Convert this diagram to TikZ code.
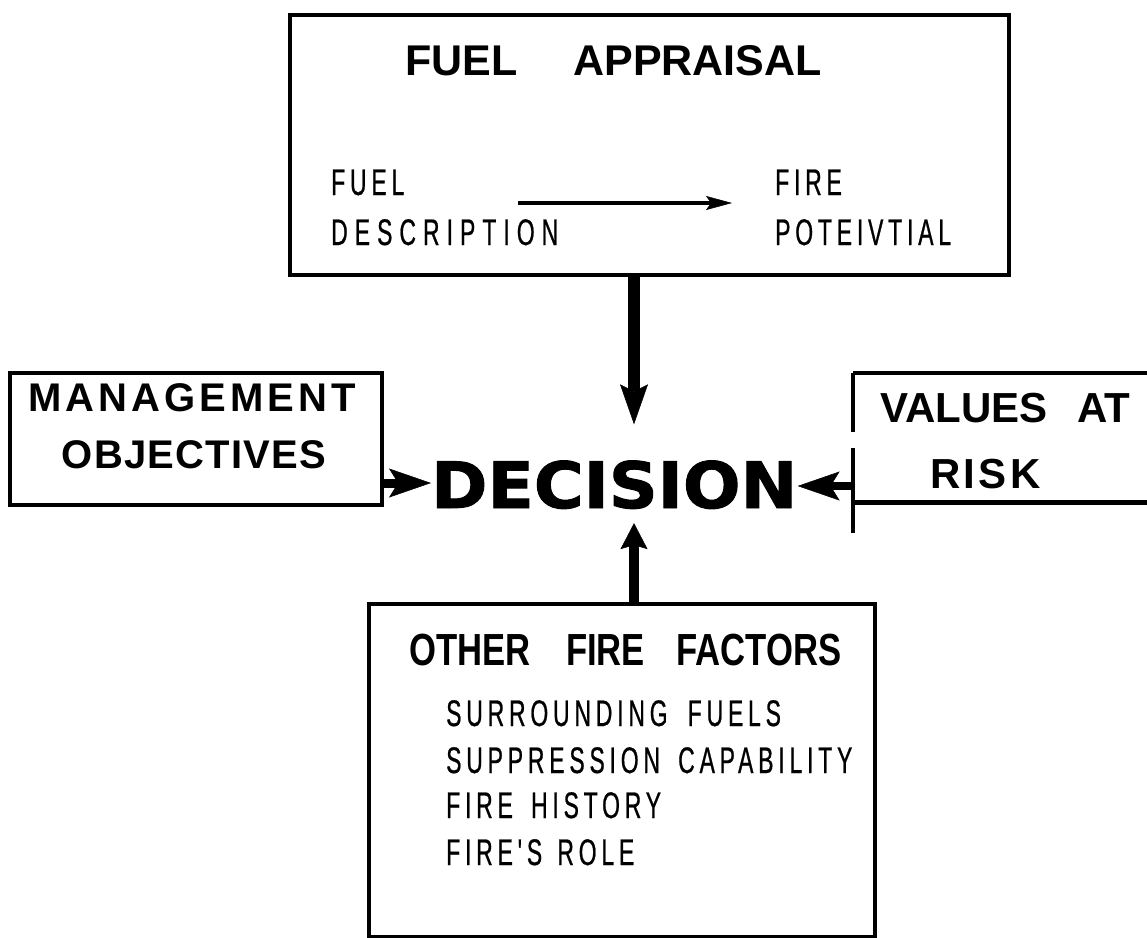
\documentclass[tikz,border=0pt]{standalone}
\usepackage{fontspec}
\usetikzlibrary{arrows.meta}
% heading face, spaced narrow face for item lists, heavy face for the centre word
\newfontfamily\headsans{Liberation Sans}
\newfontfamily\plainsans{Liberation Sans}[FakeStretch=0.62, LetterSpace=13, FakeBold=0.6]
\newfontfamily\bigsans{DejaVu Sans}[FakeStretch=1.06, FakeBold=1.5]

\begin{document}
\begin{tikzpicture}[x=1pt, y=-1pt,
  box/.style={draw, line width=4pt, inner sep=0pt, anchor=north west},
  hdr/.style={inner sep=0pt, anchor=base west,
    font=\headsans\bfseries\fontsize{43}{50}\selectfont},
  item/.style={inner sep=0pt, anchor=base west,
    font=\plainsans\fontsize{37}{42}\selectfont},
  bigarrow/.style={line width=12pt,
    -{Stealth[length=40pt, width=28pt, inset=7pt, line width=0.5pt]}},
  sidearrow/.style={line width=9pt,
    -{Stealth[length=42pt, width=29pt, inset=9pt, line width=0.5pt]}},
  smallarrow/.style={line width=4pt,
    -{Stealth[length=26pt, width=14pt, inset=5pt, line width=0.5pt]}}
]
\useasboundingbox (0,0) rectangle (1147,937);
\clip (0,0) rectangle (1147,937);

% ---- boxes ----
\node[box, minimum width=719pt, minimum height=260pt] (appraisal) at (288,13) {};
\node[box, minimum width=372pt, minimum height=132pt] (mgmt) at (8,371) {};
\node[box, minimum width=506pt, minimum height=333pt] (others) at (367,602) {};
\node[inner sep=0pt, anchor=north west, minimum width=310pt, minimum height=129pt]
  (values) at (853,373) {};
\draw[line width=4pt] (values.north west) -- (values.north east);
\draw[line width=5pt] (values.south west) -- (values.south east);
\draw[line width=4pt] (values.north west) -- ++(0,59);
\draw[line width=4pt] (values.west) ++(0,10) -- ++(0,85);

% ---- fuel appraisal ----
\node[hdr] (apptitle) at (405,75) {FUEL\hspace{56pt}APPRAISAL};
\node[item] (fuel1) at (331,195) {FUEL};
\node[item, font=\plainsans\fontsize{37}{42}\selectfont\addfontfeatures{LetterSpace=19}]
  (fuel2) at (331,245) {DESCRIPTION};
\node[item] (fire1) at (775,195) {FIRE};
\node[item] (fire2) at (775,245) {POTEIVTIAL};
\coordinate (ia) at (518,203);
\coordinate (ib) at (732,203);
\draw[smallarrow] (ia) -- (ib);

% ---- management objectives ----
\node[inner sep=0pt, anchor=base,
  font=\headsans\bfseries\fontsize{40}{46}\selectfont\addfontfeatures{LetterSpace=10}]
  (mg1) at (192,411) {MANAGEMENT};
\node[inner sep=0pt, anchor=base,
  font=\headsans\bfseries\fontsize{40}{46}\selectfont\addfontfeatures{LetterSpace=3}]
  (mg2) at (194,468) {OBJECTIVES};

% ---- values at risk ----
\node[hdr, font=\headsans\bfseries\fontsize{42}{50}\selectfont]
  (va1) at (880,422) {VALUES\hspace{18pt} AT};
\node[hdr, font=\headsans\bfseries\fontsize{42}{50}\selectfont\addfontfeatures{LetterSpace=8}]
  (va2) at (930,488) {RISK};

% ---- decision ----
\node[inner sep=0pt, anchor=base west, font=\bigsans\bfseries\fontsize{64}{70}\selectfont]
  (decision) at (431,508) {DECISION};

% ---- other fire factors ----
\node[hdr, font=\headsans\bfseries\fontsize{45}{52}\selectfont\addfontfeatures{FakeStretch=0.77}]
  (otitle) at (409,665) {OTHER\hspace{26pt} FIRE\hspace{22pt} FACTORS};
\node[item] (o1) at (446,726) {SURROUNDING\hspace{9pt} FUELS};
\node[item] (o2) at (446,773) {SUPPRESSION\hspace{7pt} CAPABILITY};
\node[item] (o3) at (446,818) {FIRE\hspace{7pt} HISTORY};
\node[item] (o4) at (446,865) {FIRE'S\hspace{4pt} ROLE};

% ---- connectors into the decision ----
\coordinate (vaxis) at (634,0);
\coordinate (haxisL) at (0,483);
\coordinate (haxisR) at (0,486);
\draw[bigarrow, shorten >=36pt] (appraisal.south -| vaxis) -- (decision.north -| vaxis);
\draw[bigarrow, line width=10pt, -{Stealth[length=26pt, width=27pt, inset=4pt, line width=0.5pt]},
  shorten >=14pt] (others.north -| vaxis) -- (decision.south -| vaxis);
\draw[sidearrow] (mgmt.east |- haxisL) -- (decision.west |- haxisL);
\draw[sidearrow, line width=8pt] (values.west |- haxisR) -- (decision.east |- haxisR);
\end{tikzpicture}
\end{document}
